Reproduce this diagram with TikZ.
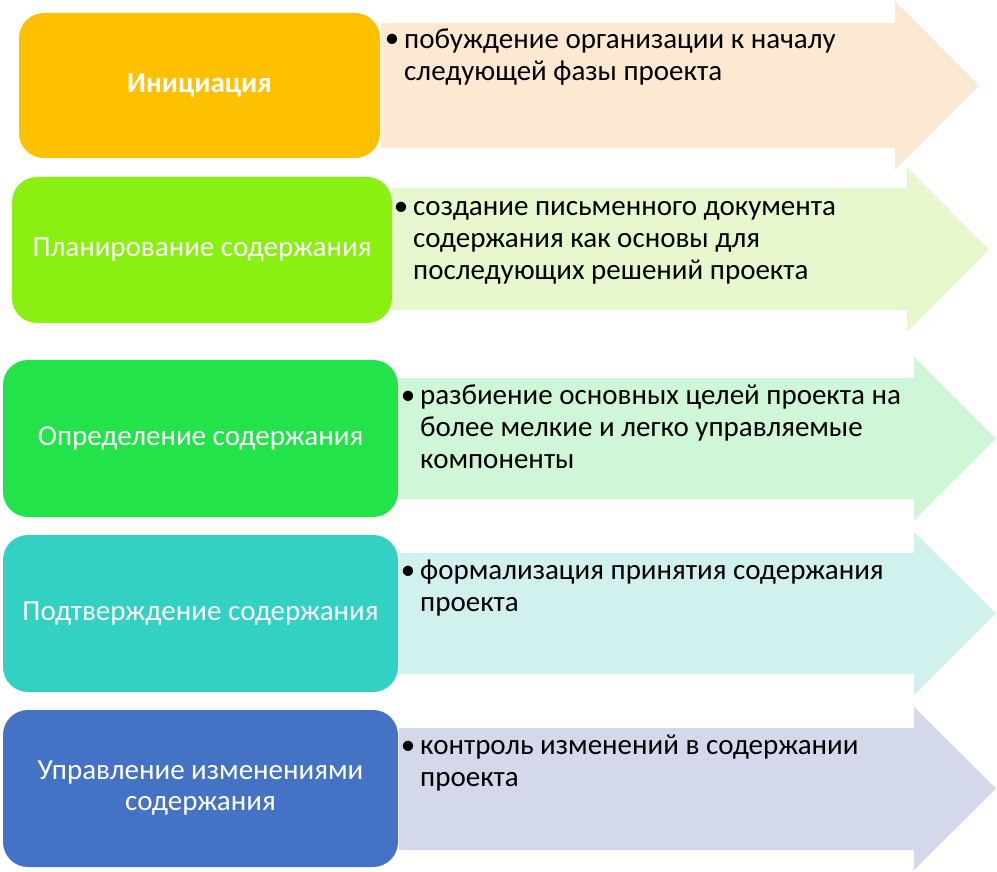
\documentclass[tikz,border=0pt]{standalone}
\usepackage{fontspec}
\setmainfont{Carlito}
\usetikzlibrary{positioning}

\definecolor{boxA}{HTML}{FFC000}
\definecolor{boxB}{HTML}{8AF012}
\definecolor{boxC}{HTML}{22E44A}
\definecolor{boxD}{HTML}{33D1C4}
\definecolor{boxE}{HTML}{4472C4}
\definecolor{arrA}{HTML}{FDE9D1}
\definecolor{arrB}{HTML}{E8F8CE}
\definecolor{arrC}{HTML}{CFF6D6}
\definecolor{arrD}{HTML}{D1F1EF}
\definecolor{arrE}{HTML}{D3D8EA}

\tikzset{
  stage/.style={rectangle, rounded corners=25pt, text=white, align=center,
    inner sep=0pt, font=\fontsize{29}{31}\selectfont},
  item/.style={anchor=north west, align=left, inner sep=0pt,
    font=\fontsize{29}{32}\selectfont},
  dot/.style={anchor=base, inner sep=0pt, font=\fontsize{29}{32}\selectfont}
}

\begin{document}
\begin{tikzpicture}[x=1pt,y=-1pt]
    \useasboundingbox (0,0) rectangle (997,872);
    % arrows behind the boxes
    \foreach \ya/\yb/\ha/\hb/\xa/\xh/\xt/\col in {
        23/148/1/170/381/895/979/arrA,
        188/310/167/332/392/907/989/arrB,
        378/499/357/520/399/914/996/arrC,
        553/674/532/695/399/914/996/arrD,
        728/850/707/870/399/914/996/arrE}{
        \fill[\col](\xa,\ya)--(\xh,\ya)--(\xh,\ha)--(\xt,{(\ha+\hb)/2})
            --(\xh,\hb)--(\xh,\yb)--(\xa,\yb)--cycle;
    }
    \node[stage,fill=boxA,minimum width=361pt,minimum height=145pt](ini) at (199.5,85.5){\textbf{Инициация}};
    \node[stage,fill=boxB,minimum width=380pt,minimum height=146pt](plan) at (202,250){Планирование содержания};
    \node[stage,fill=boxC,minimum width=395pt,minimum height=157pt](defn) at (200.5,438.5){Определение содержания};
    \node[stage,fill=boxD,minimum width=395pt,minimum height=157pt](verif) at (200.5,613.5){Подтверждение содержания};
    \node[stage,fill=boxE,minimum width=395pt,minimum height=157pt](ctrl) at (200.5,788.5){Управление изменениями\\содержания};
    % bullet texts
    \foreach \n/\x/\y/\txt in {
        a/404/48/{побуждение организации к началу\\следующей фазы проекта},
        b/413/215/{создание письменного документа\\содержания как основы для\\последующих решений проекта},
        c/420/404/{разбиение основных целей проекта на\\более мелкие и легко управляемые\\компоненты},
        d/420/579/{формализация принятия содержания\\проекта},
        e/420/754/{контроль изменений в содержании\\проекта}}{
        \node[dot](dot\n) at (\x-12,\y){•};
        \node[item](item\n) at (\x,\y-22.4){\strut\txt};
    }
\end{tikzpicture}
\end{document}
